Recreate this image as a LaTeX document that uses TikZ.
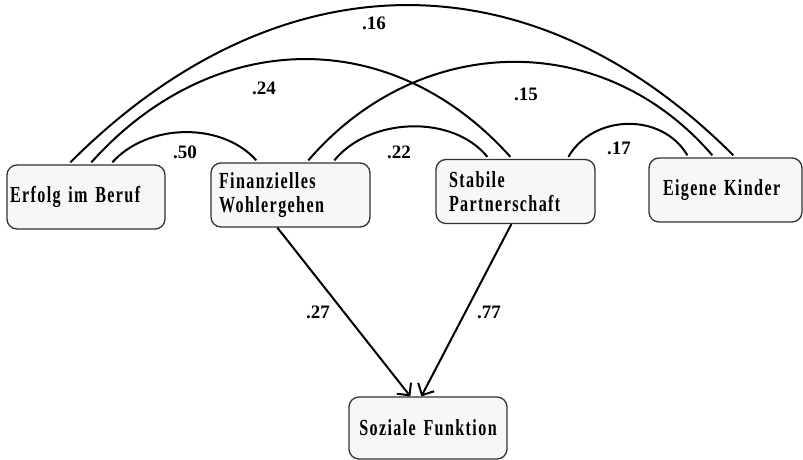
\documentclass[tikz,border=0pt]{standalone}
\usepackage{fontspec}
\setmainfont{Liberation Serif}
\newfontfamily\boxfont{Liberation Serif Bold}[FakeStretch=0.7,LetterSpace=6]
\usetikzlibrary{arrows.meta}
\tikzset{
  var/.style={rectangle,draw=black!80,fill=black!3,line width=1.3pt,rounded corners=10pt,
    minimum height=64pt,align=left,font=\boxfont\fontsize{23}{24}\selectfont},
  kor/.style={line width=2pt},
  pfad/.style={-{Straight Barb[length=9pt,width=18pt]},line width=2pt},
  wert/.style={font=\bfseries\fontsize{19}{19}\selectfont,inner sep=0pt},
}

\begin{document}
\begin{tikzpicture}[x=1pt,y=-1pt]
  \useasboundingbox (0,0) rectangle (803,460);
  % variables
  \node[var,text width=152pt,inner xsep=3pt] (erf) at (86,197) {Erfolg im Beruf};
  \node[var,text width=143pt,inner xsep=8pt] (fin) at (290.5,195) {Finanzielles\\Wohlergehen};
  \node[var,text width=133pt,inner xsep=13pt] (stab) at (515.5,191.5) {Stabile\\Partnerschaft};
  \node[var,text width=125pt,inner xsep=14pt] (kind) at (725.5,190) {Eigene Kinder};
  \node[var,text width=142pt,inner xsep=8pt,align=center,minimum height=62pt] (soz) at (428,428) {Soziale Funktion};
  % correlations
  \draw[kor] ([xshift=64pt,yshift=2pt]erf.north west) .. controls +(205,-205) and +(-205,-205) .. ([xshift=85pt,yshift=2pt]kind.north west);
  \draw[kor] ([xshift=85pt,yshift=2pt]erf.north west) .. controls +(120,-134) and +(-120,-134) .. ([xshift=75pt,yshift=2pt]stab.north west);
  \draw[kor] ([xshift=106pt,yshift=2pt]erf.north west) .. controls +(35,-39) and +(-35,-39) .. ([xshift=46pt,yshift=2pt]fin.north west);
  \draw[kor] ([xshift=98pt,yshift=2pt]fin.north west) .. controls +(110,-128) and +(-110,-128) .. ([xshift=64pt,yshift=2pt]kind.north west);
  \draw[kor] ([xshift=124pt,yshift=2pt]fin.north west) .. controls +(35,-43) and +(-35,-43) .. ([xshift=52pt,yshift=2pt]stab.north west);
  \draw[kor] ([xshift=133pt,yshift=2pt]stab.north west) .. controls +(25,-43) and +(-25,-43) .. ([xshift=39pt,yshift=2pt]kind.north west);
  % paths
  \draw[pfad] ([xshift=67pt]fin.south west) -- ([xshift=62pt]soz.north west);
  \draw[pfad] ([xshift=76pt]stab.south west) -- ([xshift=73pt]soz.north west);
  % coefficients
  \node[wert] (r16) at (374,23) {.16};
  \node[wert] (r24) at (264,88) {.24};
  \node[wert] (r50) at (185,152) {.50};
  \node[wert] (r22) at (399,152) {.22};
  \node[wert] (r15) at (526,94) {.15};
  \node[wert] (r17) at (619,148) {.17};
  \node[wert] (r27) at (318,312) {.27};
  \node[wert] (r77) at (489,312) {.77};
\end{tikzpicture}
\end{document}
